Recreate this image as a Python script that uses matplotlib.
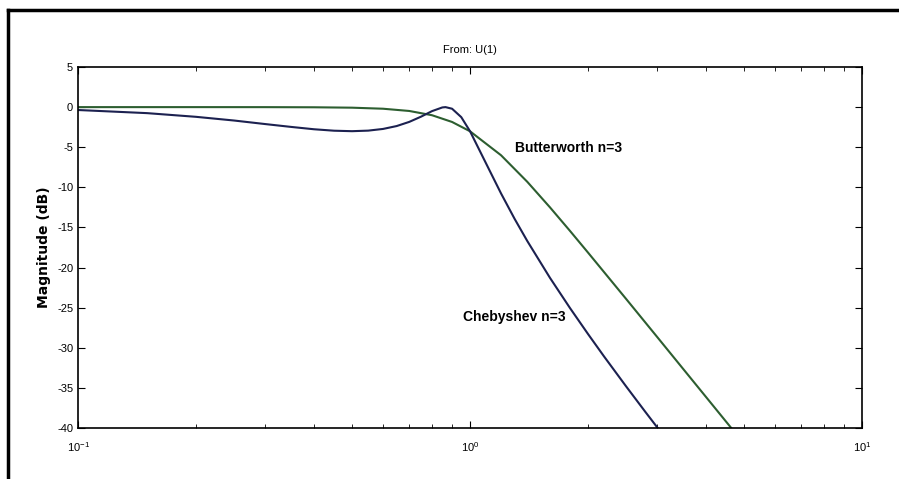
import numpy as np
import matplotlib.pyplot as plt
from matplotlib.lines import Line2D

plt.rcParams['font.family'] = ['Liberation Sans', 'DejaVu Sans']

# frequencies (rad/s) and magnitudes (dB)
w_butter = [0.1, 0.2, 0.3, 0.4, 0.5, 0.6, 0.7, 0.8, 0.9, 1.0, 1.2, 1.4, 1.6,
            1.8, 2.0, 2.5, 3.0, 3.5, 4.0, 4.64]
mag_butter = [0.0, 0.0, -0.003, -0.02, -0.07, -0.2, -0.48, -1.01, -1.85, -3.01,
              -6.0, -9.31, -12.5, -15.44, -18.13, -23.89, -28.63, -32.65, -36.13, -40.0]

w_cheby = [0.1, 0.15, 0.2, 0.25, 0.3, 0.35, 0.4, 0.45, 0.5, 0.55, 0.6, 0.65,
           0.7, 0.75, 0.8, 0.85, 0.866, 0.9, 0.95, 1.0, 1.1, 1.2, 1.3, 1.4,
           1.6, 1.8, 2.0, 2.2, 2.5, 2.8, 3.0, 3.05]
mag_cheby = [-0.36, -0.75, -1.21, -1.67, -2.11, -2.47, -2.76, -2.94, -3.0, -2.93,
             -2.72, -2.36, -1.84, -1.19, -0.5, -0.04, 0.0, -0.2, -1.25, -3.0,
             -7.06, -10.76, -13.94, -16.69, -21.29, -25.06, -28.28, -31.11,
             -34.79, -37.98, -39.89, -40.35]

yticks = [5, 0, -5, -10, -15, -20, -25, -30, -35, -40]

fig = plt.figure(figsize=(8.99, 4.79), dpi=100)
ax = fig.add_axes([0.0868, 0.1065, 0.872, 0.7536])

ax.semilogx(w_butter, mag_butter, color='#2d5e30', lw=1.5)
ax.semilogx(w_cheby, mag_cheby, color='#1c2150', lw=1.5)

ax.set_xlim(0.1, 10)
ax.set_ylim(-40, 5)
ax.set_yticks(yticks)
ax.set_yticklabels([str(t) for t in yticks])
ax.tick_params(which='both', direction='in', top=True, right=True, labelsize=8)
ax.tick_params(which='major', length=5)
ax.tick_params(which='minor', length=3)
ax.tick_params(axis='x', pad=9)
for s in ax.spines.values():
    s.set_linewidth(1.2)

ax.set_title('From: U(1)', fontsize=8, pad=10)
ax.set_ylabel('Magnitude (dB)', fontsize=10, fontweight='bold', family=['DejaVu Sans'])

note_font = ['DejaVu Sans Condensed', 'Liberation Sans']
ax.text(1.30, -5.1, 'Butterworth n=3', fontsize=10, fontweight='bold',
        va='center', family=note_font)
ax.text(0.96, -26.2, 'Chebyshev n=3', fontsize=10, fontweight='bold',
        va='center', family=note_font)

# outer frame (top and left edges visible)
fig.add_artist(Line2D([8/899, 8/899], [0, 1 - 10/479], color='black', lw=2.5,
                      transform=fig.transFigure))
fig.add_artist(Line2D([8/899, 1], [1 - 10/479, 1 - 10/479], color='black', lw=2.5,
                      transform=fig.transFigure))

fig.savefig('out.png', dpi=100)
